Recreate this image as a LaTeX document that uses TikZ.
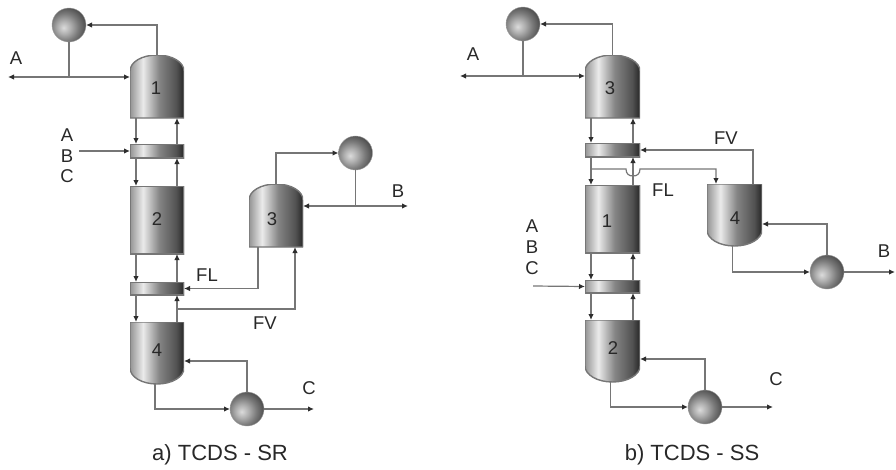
\documentclass[tikz,border=0pt]{standalone}
\usepackage{fontspec}
\setmainfont{Liberation Sans}
\usetikzlibrary{arrows.meta, calc}
\definecolor{linegray}{RGB}{118,118,118}
\definecolor{tipgray}{RGB}{45,45,45}
\definecolor{textgray}{RGB}{40,40,40}
\pgfdeclarehorizontalshading{vesselgrad}{100bp}{color(0bp)=(black!42); color(25bp)=(black!42); color(37bp)=(black!8); color(52bp)=(black!48); color(68bp)=(black!68); color(75bp)=(black!85); color(100bp)=(black!85)}
\pgfdeclareradialshading{ballgrad}{\pgfpoint{-8bp}{-4bp}}{color(0bp)=(black!14); color(10bp)=(black!32); color(20bp)=(black!52); color(32bp)=(black!72); color(50bp)=(black!85); color(100bp)=(black!85)}

\begin{document}
\begin{tikzpicture}[
    x=1pt, y=-1pt,
    every node/.style={text=textgray},
    tower/.style={minimum width=54pt, minimum height=#1, inner sep=0pt, outer sep=0pt},
    plain/.style={tower=#1, path picture={
        \shade[shading=vesselgrad, draw=linegray, line width=1.4pt] (path picture bounding box.south west) rectangle (path picture bounding box.north east);}},
    domeup/.style={tower=#1, path picture={
        \shade[shading=vesselgrad, draw=linegray, line width=1.4pt] (path picture bounding box.south west) -- ([yshift=-16pt]path picture bounding box.north west) .. controls ([yshift=-7pt]path picture bounding box.north west) and ([xshift=-15pt]path picture bounding box.north) .. (path picture bounding box.north) .. controls ([xshift=15pt]path picture bounding box.north) and ([yshift=-7pt]path picture bounding box.north east) .. ([yshift=-16pt]path picture bounding box.north east) -- (path picture bounding box.south east) -- cycle;}},
    domedown/.style={tower=#1, path picture={
        \shade[shading=vesselgrad, draw=linegray, line width=1.4pt] (path picture bounding box.north west) -- ([yshift=16pt]path picture bounding box.south west) .. controls ([yshift=7pt]path picture bounding box.south west) and ([xshift=-15pt]path picture bounding box.south) .. (path picture bounding box.south) .. controls ([xshift=15pt]path picture bounding box.south) and ([yshift=7pt]path picture bounding box.south east) .. ([yshift=16pt]path picture bounding box.south east) -- (path picture bounding box.north east) -- cycle;}},
    drum/.style={circle, minimum size=34pt, inner sep=0pt, outer sep=0pt, shading=ballgrad, draw=linegray!70},
    lbl/.style={font=\fontsize{18.5}{18.5}\selectfont, inner sep=0pt},
    captext/.style={font=\fontsize{22}{22}\selectfont, inner sep=0pt},
    flow/.style={draw=linegray, line width=1.2pt},
    flowto/.style={flow, -{Latex[length=6pt, width=5.5pt, color=tipgray]}}
]
    \useasboundingbox (0,0) rectangle (896,469);

    % a) columns
    \node[domeup=63pt] (towerAi) at (157,86.5) {};
    \node[plain=14pt] (panelAa) at (157,151) {};
    \node[plain=68pt] (towerAii) at (157,220) {};
    \node[plain=13pt] (panelAb) at (157,288.5) {};
    \node[domedown=62pt] (towerAiv) at (157,353) {};
    \node[domeup=63pt] (towerAiii) at (276,215.5) {};
    \node[drum] (condAa) at (69,25) {};
    \node[drum] (condAb) at (355.5,153) {};
    \node[drum] (rebA) at (247,409) {};

    % a) labels
    \node[lbl] (numAi) at (156,88) {1};
    \node[lbl] (numAii) at (157,219) {2};
    \node[lbl] (numAiii) at (272,219) {3};
    \node[lbl] (numAiv) at (157,350) {4};
    \node[lbl] (topA) at (16,58) {A};
    \node[lbl] (feedAa) at (67,135) {A};
    \node[lbl] (feedAb) at (67,156) {B};
    \node[lbl] (feedAc) at (67,176) {C};
    \node[lbl] (sideB) at (398,191) {B};
    \node[lbl] (flA) at (207,275) {FL};
    \node[lbl] (fvA) at (265,323) {FV};
    \node[lbl] (botC) at (309,388) {C};
    \node[captext] (capA) at (220,455) {a) TCDS - SR};

    % a) free ends
    \coordinate (outA) at (8,77);
    \coordinate (outB) at (408,206);
    \coordinate (outC) at (314,409);
    \coordinate (inA) at (79,151);
    \coordinate (tapFV) at (177,309);

    % a) top condenser
    \draw[flowto] (towerAi.north) |- (condAa.east);
    \draw[flow] (condAa.south) -- (condAa.south |- outA);
    \draw[flowto] (condAa.south |- outA) -- (outA);
    \draw[flowto] (condAa.south |- outA) -- (towerAi.west |- outA);

    % a) column links
    \draw[flowto] ([xshift=-21pt]towerAi.south) -- ([xshift=-21pt]panelAa.north);
    \draw[flowto] ([xshift=20pt]panelAa.north) -- ([xshift=20pt]towerAi.south);
    \draw[flowto] ([xshift=-21pt]panelAa.south) -- ([xshift=-21pt]towerAii.north);
    \draw[flowto] ([xshift=20pt]towerAii.north) -- ([xshift=20pt]panelAa.south);
    \draw[flowto] ([xshift=-21pt]towerAii.south) -- ([xshift=-21pt]panelAb.north);
    \draw[flowto] ([xshift=20pt]panelAb.north) -- ([xshift=20pt]towerAii.south);
    \draw[flowto] ([xshift=-21pt]panelAb.south) -- ([xshift=-21pt]towerAiv.north);
    \draw[flowto] ([xshift=20pt]towerAiv.north) -- ([xshift=20pt]panelAb.south);
    \draw[flowto] (inA) -- (panelAa.west);

    % a) side column
    \draw[flowto] (towerAiii.north) |- (condAb.west);
    \draw[flow] (condAb.south) -- (condAb.south |- outB);
    \draw[flowto] (condAb.south |- outB) -- (towerAiii.east |- outB);
    \draw[flowto] (condAb.south |- outB) -- (outB);
    \draw[flowto] ([xshift=-18pt]towerAiii.south) |- (panelAb.east);
    \draw[flowto] (tapFV) -| ([xshift=19pt]towerAiii.south);

    % a) reboiler
    \draw[flowto] (rebA.north) |- ([yshift=-8pt]towerAiv.east);
    \draw[flowto] ([xshift=-2pt]towerAiv.south) |- (rebA.west);
    \draw[flowto] (rebA.east) -- (outC);

    % b) columns
    \node[domeup=63pt, minimum width=55pt] (towerBiii) at (612.5,86.5) {};
    \node[plain=14pt, minimum width=55pt] (panelBa) at (612.5,150) {};
    \node[plain=68pt, minimum width=55pt] (towerBi) at (612.5,219) {};
    \node[plain=13pt, minimum width=55pt] (panelBb) at (612.5,286.5) {};
    \node[domedown=62pt, minimum width=55pt] (towerBii) at (612.5,351) {};
    \node[domedown=62pt, minimum width=55pt] (towerBiv) at (734.5,215) {};
    \node[drum] (condBa) at (523,24) {};
    \node[drum] (condBb) at (827,272) {};
    \node[drum] (rebB) at (705,407) {};

    % b) labels
    \node[lbl] (numBi) at (607,221) {1};
    \node[lbl] (numBii) at (613,348) {2};
    \node[lbl] (numBiii) at (610,88) {3};
    \node[lbl] (numBiv) at (735,218) {4};
    \node[lbl] (topB) at (473,54) {A};
    \node[lbl] (feedBa) at (532,226) {A};
    \node[lbl] (feedBb) at (532,247) {B};
    \node[lbl] (feedBc) at (532,268) {C};
    \node[lbl] (sideBb) at (884,251) {B};
    \node[lbl] (flB) at (663,190) {FL};
    \node[lbl] (fvB) at (726,138) {FV};
    \node[lbl] (botCb) at (776,379) {C};
    \node[captext] (capB) at (692,455) {b) TCDS - SS};

    % b) free ends
    \coordinate (outAb) at (460,76);
    \coordinate (outBb) at (895,272);
    \coordinate (outCb) at (773,407);
    \coordinate (inB) at (533,286);
    \coordinate (tapFL) at (591,169);

    % b) top condenser
    \draw[flowto] (towerBiii.north) |- (condBa.east);
    \draw[flow] (condBa.south) -- (condBa.south |- outAb);
    \draw[flowto] (condBa.south |- outAb) -- (outAb);
    \draw[flowto] (condBa.south |- outAb) -- (towerBiii.west |- outAb);

    % b) column links
    \draw[flowto] ([xshift=-21.5pt]towerBiii.south) -- ([xshift=-21.5pt]panelBa.north);
    \draw[flowto] ([xshift=20.5pt]panelBa.north) -- ([xshift=20.5pt]towerBiii.south);
    \draw[flowto] ([xshift=-21.5pt]panelBa.south) -- ([xshift=-21.5pt]towerBi.north);
    \draw[flowto] ([xshift=20.5pt]towerBi.north) -- ([xshift=20.5pt]panelBa.south);
    \draw[flowto] ([xshift=-21.5pt]towerBi.south) -- ([xshift=-21.5pt]panelBb.north);
    \draw[flowto] ([xshift=20.5pt]panelBb.north) -- ([xshift=20.5pt]towerBi.south);
    \draw[flowto] ([xshift=-21.5pt]panelBb.south) -- ([xshift=-21.5pt]towerBii.north);
    \draw[flowto] ([xshift=20.5pt]towerBii.north) -- ([xshift=20.5pt]panelBb.south);
    \draw[flowto] (inB) -- (panelBb.west);

    % b) side column
    \draw[flowto] ([xshift=18.5pt]towerBiv.north) |- (panelBa.east);
    \draw[flowto] (tapFL) -- (626,169) .. controls (626,174) and (629,176) .. (633,176) .. controls (637,176) and (640,174) .. (640,169) -| ([xshift=-18.5pt]towerBiv.north);
    \draw[flowto] ([xshift=-2pt]towerBiv.south) |- (condBb.west);
    \draw[flowto] (condBb.north) |- ([yshift=-9pt]towerBiv.east);
    \draw[flowto] (condBb.east) -- (outBb);

    % b) reboiler
    \draw[flowto] (rebB.north) |- ([yshift=-8pt]towerBii.east);
    \draw[flowto] ([xshift=-2pt]towerBii.south) |- (rebB.west);
    \draw[flowto] (rebB.east) -- (outCb);
\end{tikzpicture}
\end{document}
